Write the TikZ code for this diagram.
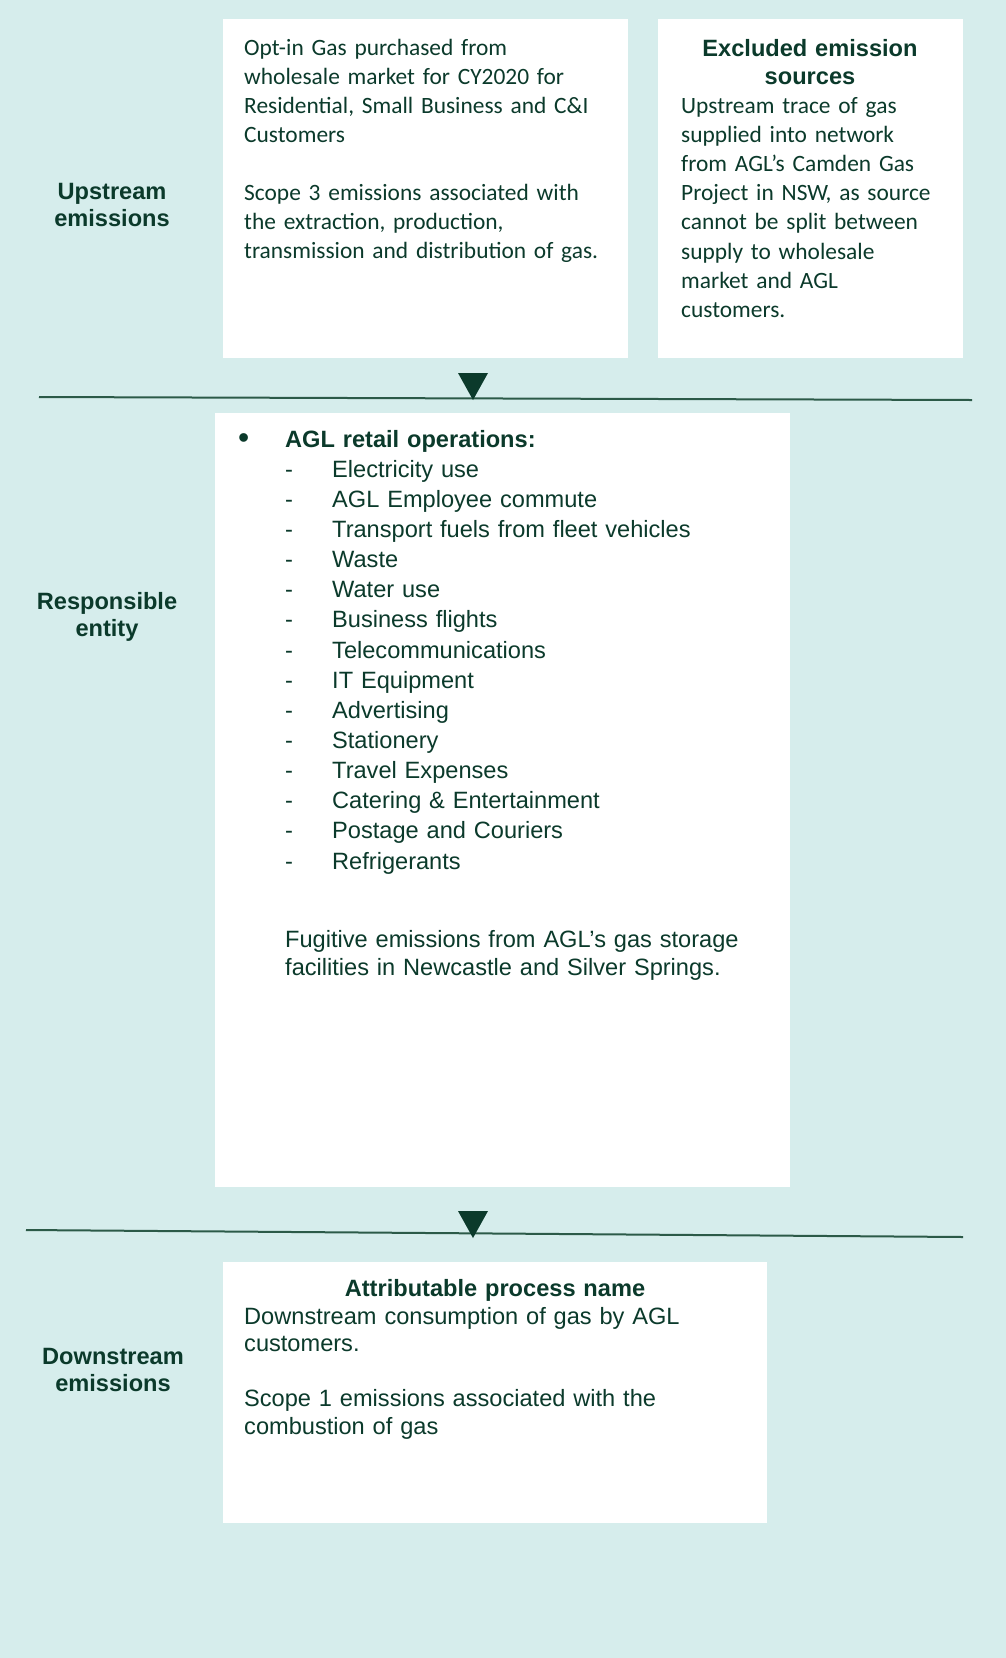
\documentclass[tikz,border=0pt]{standalone}
\usepackage{fontspec}
\setmainfont{Liberation Sans}
\newfontfamily\calibri{Carlito}
\definecolor{panel}{HTML}{D6EDEC}
\definecolor{ink}{HTML}{0B3A2B}
\definecolor{rulegreen}{HTML}{2C5A48}
\begin{document}
\begin{tikzpicture}[x=1pt,y=-1pt,
  lab/.style={font=\fontsize{23.6}{27.5}\selectfont\bfseries,text=ink,text width=200pt,align=center,anchor=base,inner sep=0pt},
  body/.style={text=ink,anchor=base west,inner sep=0pt,align=left},
  heading/.style={font=\fontsize{23.6}{28}\selectfont\bfseries,text=ink,anchor=base,inner sep=0pt,align=center},
  sep/.style={rulegreen,line width=2pt}]
  \pgfmathsetmacro\tw{30}
  \pgfmathsetmacro\th{27}
  % page and background:
  \useasboundingbox (0,0) rectangle (1006,1658);
  \fill[panel] (0,0) rectangle (1006,1658);
  % white boxes:
  \fill[white] (223,19) rectangle (628,358);
  \fill[white] (658,19) rectangle (963,358);
  \fill[white] (215,413) rectangle (790,1187);
  \fill[white] (223,1262) rectangle (767,1523);
  % row labels:
  \node[lab] (upstream) at (112,199) {Upstream\\emissions};
  \node[lab] (responsible) at (107,609) {Responsible\\entity};
  \node[lab] (downstream) at (113,1364) {Downstream\\emissions};
  % upstream boxes:
  \node[body,font=\calibri\fontsize{23.4}{29}\selectfont,text width=380pt] (optin) at (244,55)
    {Opt-in Gas purchased from\\wholesale market for CY2020 for\\Residential, Small Business and C\&I\\Customers\\[29pt]Scope 3 emissions associated with\\the extraction, production,\\transmission and distribution of gas.};
  \node[heading,text width=280pt] (excluded) at (810,56) {Excluded emission\\sources};
  \node[body,font=\calibri\fontsize{23.4}{29.2}\selectfont,text width=280pt] (camden) at (681,113)
    {Upstream trace of gas\\supplied into network\\from AGL’s Camden Gas\\Project in NSW, as source\\cannot be split between\\supply to wholesale\\market and AGL\\customers.};
  % separators with markers:
  \coordinate (sepAw) at (39,397);
  \coordinate (sepAe) at (972,400);
  \coordinate (tipA) at (473,400);
  \draw[sep] (sepAw) -- (sepAe);
  \fill[ink] (tipA) ++(-\tw/2,-\th) -- ++(\tw,0) -- (tipA) -- cycle;
  \coordinate (sepBw) at (26,1230);
  \coordinate (sepBe) at (963,1237);
  \coordinate (tipB) at (473,1238);
  \draw[sep] (sepBw) -- (sepBe);
  \fill[ink] (tipB) ++(-\tw/2,-\th) -- ++(\tw,0) -- (tipB) -- cycle;
  % responsible entity box:
  \node[body,font=\fontsize{23.6}{30.15}\selectfont,text width=480pt] (ops) at (285,447)
    {\llap{\raisebox{-1pt}{\scalebox{1.35}{\textbullet}}\hspace{36pt}}\textbf{AGL retail operations:}\\
     \makebox[47pt][l]{-}Electricity use\\
     \makebox[47pt][l]{-}AGL Employee commute\\
     \makebox[47pt][l]{-}Transport fuels from fleet vehicles\\
     \makebox[47pt][l]{-}Waste\\
     \makebox[47pt][l]{-}Water use\\
     \makebox[47pt][l]{-}Business flights\\
     \makebox[47pt][l]{-}Telecommunications\\
     \makebox[47pt][l]{-}IT Equipment\\
     \makebox[47pt][l]{-}Advertising\\
     \makebox[47pt][l]{-}Stationery\\
     \makebox[47pt][l]{-}Travel Expenses\\
     \makebox[47pt][l]{-}Catering \& Entertainment\\
     \makebox[47pt][l]{-}Postage and Couriers\\
     \makebox[47pt][l]{-}Refrigerants};
  \node[body,font=\fontsize{23.6}{28.6}\selectfont,text width=480pt] (fugitive) at (285,947)
    {Fugitive emissions from AGL’s gas storage\\facilities in Newcastle and Silver Springs.};
  % downstream box:
  \node[heading,text width=500pt] (attributable) at (495,1296) {Attributable process name};
  \node[body,font=\fontsize{23.6}{27.5}\selectfont,text width=510pt] (consumption) at (244,1324)
    {Downstream consumption of gas by AGL\\customers.\\[27.5pt]Scope 1 emissions associated with the\\combustion of gas};
\end{tikzpicture}
\end{document}
